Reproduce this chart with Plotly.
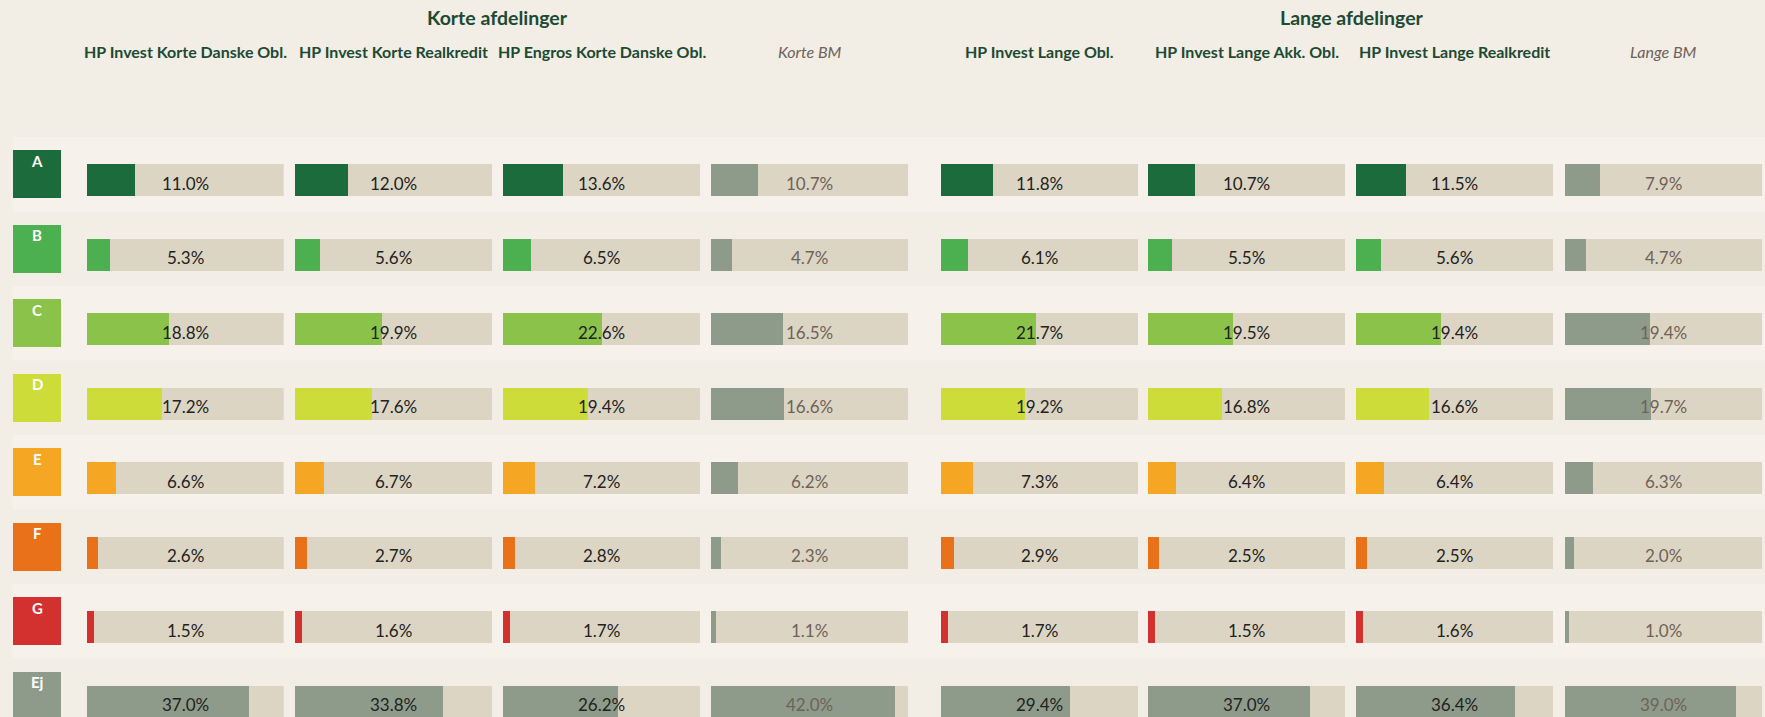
import plotly.graph_objects as go

W, H = 1765, 717

categories = ["A", "B", "C", "D", "E", "F", "G", "Ej"]
category_colors = ["#1B6B3C", "#4CAF50", "#8BC34A", "#CDDC39", "#F5A623", "#E8711A", "#D3312F", "#8E9B8A"]

group_titles = ["Korte afdelinger", "Lange afdelinger"]
funds = [
    "HP Invest Korte Danske Obl.",
    "HP Invest Korte Realkredit",
    "HP Engros Korte Danske Obl.",
    "Korte BM",
    "HP Invest Lange Obl.",
    "HP Invest Lange Akk. Obl.",
    "HP Invest Lange Realkredit",
    "Lange BM",
]
is_benchmark = [False, False, False, True, False, False, False, True]

korte_danske = [11.0, 5.3, 18.8, 17.2, 6.6, 2.6, 1.5, 37.0]
korte_realkredit = [12.0, 5.6, 19.9, 17.6, 6.7, 2.7, 1.6, 33.8]
engros_korte = [13.6, 6.5, 22.6, 19.4, 7.2, 2.8, 1.7, 26.2]
korte_bm = [10.7, 4.7, 16.5, 16.6, 6.2, 2.3, 1.1, 42.0]
lange_obl = [11.8, 6.1, 21.7, 19.2, 7.3, 2.9, 1.7, 29.4]
lange_akk = [10.7, 5.5, 19.5, 16.8, 6.4, 2.5, 1.5, 37.0]
lange_realkredit = [11.5, 5.6, 19.4, 16.6, 6.4, 2.5, 1.6, 36.4]
lange_bm = [7.9, 4.7, 19.4, 19.7, 6.3, 2.0, 1.0, 39.0]
all_values = [korte_danske, korte_realkredit, engros_korte, korte_bm,
              lange_obl, lange_akk, lange_realkredit, lange_bm]

SCALE_MAX = 45.0

# ---- layout geometry (pixels) ----
BG = "#F2EDE5"
BAND_LIGHT = "#F6F2EB"
TRACK = "#DDD5C3"
BM_COLOR = "#8E9B8A"
HEAD_COLOR = "#1C4A33"
BM_TEXT = "#6E6259"
VAL_TEXT = "#222222"
FONT = "Lato"

col_left = [86.7, 295, 503, 711, 941, 1148, 1356, 1565]
col_w = 197
row_pitch = 74.5
row0_center = 180.3
bar_h = 32
box_left, box_w, box_h = 13, 48, 48
box_offset = -6.3
band_top0 = 137

def py(p):
    return (p - row0_center) / row_pitch

y_top = py(0)
y_bot = py(H)
rows = list(range(len(categories)))

fig = go.Figure()
layout_axes = {}

# Category label boxes
fig.add_trace(go.Bar(
    orientation="h", y=[r + box_offset / row_pitch for r in rows], x=[1] * len(rows), base=0,
    width=box_h / row_pitch, marker=dict(color=category_colors, line=dict(width=0)),
    xaxis="x9", yaxis="y", hoverinfo="skip", showlegend=False,
))
layout_axes["xaxis9"] = dict(domain=[box_left / W, (box_left + box_w) / W], range=[0, 1],
                             visible=False, anchor="y", fixedrange=True)

annotations = []
for r, c in zip(rows, categories):
    annotations.append(dict(x=0.5, y=r - 19.4 / row_pitch, xref="x9", yref="y", text=f"<b>{c}</b>",
                            showarrow=False, font=dict(family=FONT, size=15, color="white"),
                            xanchor="center", yanchor="middle"))

for k, (name, vals, bm) in enumerate(zip(funds, all_values, is_benchmark)):
    ax = f"x{k+1}"
    key = "xaxis" if k == 0 else f"xaxis{k+1}"
    layout_axes[key] = dict(domain=[col_left[k] / W, (col_left[k] + col_w) / W],
                            range=[0, SCALE_MAX], visible=False, anchor="y", fixedrange=True)
    fig.add_trace(go.Bar(orientation="h", y=rows, x=[SCALE_MAX] * len(rows), base=0,
                         width=bar_h / row_pitch, marker=dict(color=TRACK, line=dict(width=0)),
                         xaxis=ax, yaxis="y", hoverinfo="skip", showlegend=False))
    colors = [BM_COLOR] * len(rows) if bm else category_colors
    fig.add_trace(go.Bar(orientation="h", y=rows, x=vals, base=0,
                         width=bar_h / row_pitch, marker=dict(color=colors, line=dict(width=0)),
                         xaxis=ax, yaxis="y", showlegend=False,
                         hovertemplate=name + " %{y}: %{x:.1f}%<extra></extra>"))
    for r, v in zip(rows, vals):
        annotations.append(dict(x=SCALE_MAX / 2, y=r, xref=ax, yref="y", text=f"{v:.1f}%",
                                showarrow=False, yshift=-3,
                                font=dict(family=FONT, size=17, color=BM_TEXT if bm else VAL_TEXT),
                                xanchor="center", yanchor="middle"))
    # column header
    cx = (col_left[k] + col_w / 2) / W
    if bm:
        htxt = f"<i>{name}</i>"
        hcol = BM_TEXT
    else:
        htxt = f"<b>{name}</b>"
        hcol = HEAD_COLOR
    annotations.append(dict(x=cx, y=1 - 51.5 / H, xref="paper", yref="paper", text=htxt,
                            showarrow=False, font=dict(family=FONT, size=16, color=hcol),
                            xanchor="center", yanchor="middle"))

# group titles
for g, title in enumerate(group_titles):
    left = col_left[4 * g]
    right = col_left[4 * g + 3] + col_w
    annotations.append(dict(x=(left + right) / 2 / W, y=1 - 18 / H, xref="paper", yref="paper",
                            text=f"<b>{title}</b>", showarrow=False,
                            font=dict(family=FONT, size=19.5, color=HEAD_COLOR),
                            xanchor="center", yanchor="middle"))

# alternating row bands
shapes = []
for r in rows:
    if r % 2 == 0:
        y0 = py(band_top0 + r * row_pitch)
        y1 = py(band_top0 + (r + 1) * row_pitch)
        shapes.append(dict(type="rect", xref="paper", yref="y", x0=box_left / W, x1=1,
                           y0=y0, y1=y1, fillcolor=BAND_LIGHT, line=dict(width=0), layer="below"))

fig.update_layout(
    width=W, height=H, margin=dict(l=0, r=0, t=0, b=0),
    paper_bgcolor=BG, plot_bgcolor="rgba(0,0,0,0)",
    barmode="overlay", bargap=0,
    yaxis=dict(domain=[0, 1], range=[y_bot, y_top], visible=False, fixedrange=True),
    annotations=annotations, shapes=shapes, showlegend=False,
    **layout_axes,
)

fig.write_html(
    "out.html",
    config={"displayModeBar": False},
    post_script="document.body.style.margin='0';document.body.style.overflow='hidden';document.body.style.background='" + BG + "';",
)
